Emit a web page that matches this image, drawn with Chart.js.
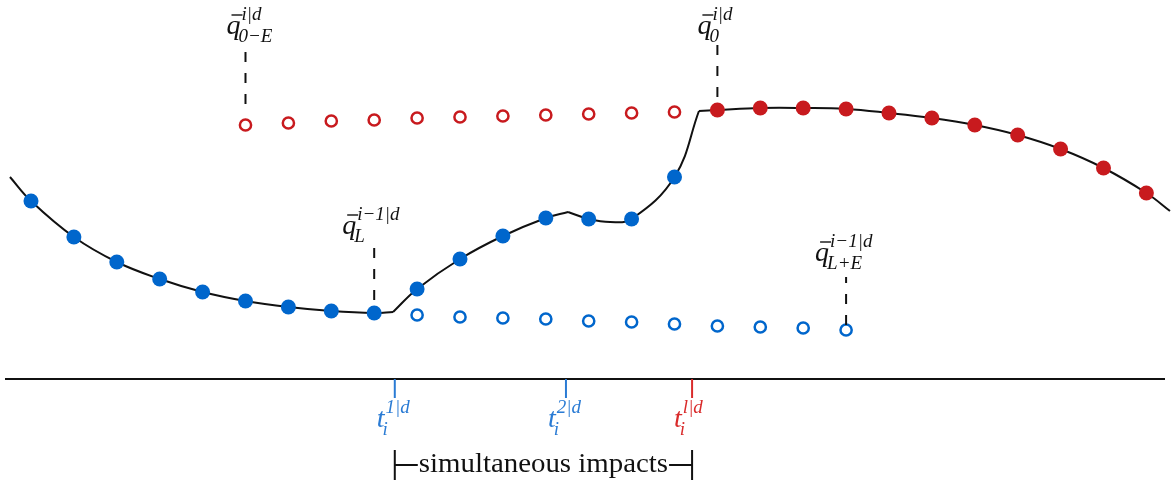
<!DOCTYPE html>
<html>
<head>
<meta charset="utf-8">
<script src="https://cdn.jsdelivr.net/npm/chart.js@4.4.1/dist/chart.umd.min.js"></script>
<style>
  html, body { margin: 0; padding: 0; background: #fff; }
  #wrap { width: 1172px; height: 483px; }
</style>
</head>
<body>
<div id="wrap"><canvas id="c"></canvas></div>
<script>
// sample index k on the time axis, q = height above the time axis

// pre-impact samples (blue, filled)
const blueK = [0, 1, 2, 3, 4, 5, 6, 7, 8, 9, 10, 11, 12, 13, 14, 15];
const blueQ = [179, 143, 118, 101, 88, 79, 73, 69, 67, 91, 121, 144, 162, 161, 161, 203];
// extended pre-impact reference (blue, open)
const blueOpenK = [9, 10, 11, 12, 13, 14, 15, 16, 17, 18, 19];
const blueOpenQ = [65, 63, 62, 61, 59, 58, 56, 54, 53, 52, 50];
// extended post-impact reference (red, open)
const redOpenK = [5, 6, 7, 8, 9, 10, 11, 12, 13, 14, 15];
const redOpenQ = [255, 257, 259, 260, 262, 263, 264, 265, 266, 267, 268];
// post-impact samples (red, filled)
const redK = [16, 17, 18, 19, 20, 21, 22, 23, 24, 25, 26];
const redQ = [270, 272, 272, 271, 267, 262, 255, 245, 231, 212, 187];

// continuous trajectory, split at the impacts
const segAK = [-0.49, 0, 1, 2, 3, 4, 5, 6, 7, 8, 8.44];
const segAQ = [203, 179, 143, 118, 101, 88, 79, 73, 69, 67, 68];
const segBK = [8.44, 9, 10, 11, 12, 12.52];
const segBQ = [68, 91, 121, 144, 162, 168];
const segCK = [12.52, 13, 13.5, 14, 15, 15.57];
const segCQ = [168, 161, 158, 161, 203, 269];
const segDK = [15.57, 16, 17, 18, 19, 20, 21, 22, 23, 24, 25, 26, 26.55];
const segDQ = [269, 270, 272, 272, 271, 267, 262, 255, 245, 231, 212, 187, 169];

// impact times
const impactT = [8.48, 12.47, 15.41];
const impactSup = ['1|d', '2|d', 'l|d'];

const BLUE = '#0066cc';
const RED = '#c81a1e';
const TBLUE = '#2a7bd4';
const TRED = '#d92b2b';
const SERIF = '"Liberation Serif", "DejaVu Serif", serif';

const pts = (ks, qs) => ks.map((k, i) => ({ x: k, y: qs[i] }));

function sym(ctx, x, base, main, sup, sub, color, bar) {
  ctx.fillStyle = color;
  ctx.strokeStyle = color;
  ctx.textAlign = 'left';
  ctx.textBaseline = 'alphabetic';
  ctx.font = 'italic 28px ' + SERIF;
  ctx.fillText(main, x, base);
  const w = ctx.measureText(main).width;
  if (bar) {
    ctx.lineWidth = 1.4;
    ctx.beginPath();
    ctx.moveTo(x + 5, base - 19);
    ctx.lineTo(x + w + 2, base - 19);
    ctx.stroke();
  }
  ctx.font = 'italic 19px ' + SERIF;
  ctx.fillText(sup, x + w + 1, base - 14);
  ctx.fillText(sub, x + w - 2, base + 8);
}

function leader(ctx, px, top, bottom) {
  ctx.save();
  ctx.setLineDash([10, 11]);
  ctx.lineWidth = 2;
  ctx.strokeStyle = '#111';
  ctx.beginPath();
  ctx.moveTo(px, bottom);
  ctx.lineTo(px, top);
  ctx.stroke();
  ctx.restore();
}

const annot = {
  id: 'annot',
  afterDatasetsDraw(chart) {
    const { ctx, scales: { x, y }, chartArea } = chart;
    ctx.save();

    // time axis
    const ay = Math.round(y.getPixelForValue(1));
    ctx.strokeStyle = '#111';
    ctx.lineWidth = 2;
    ctx.beginPath();
    ctx.moveTo(chartArea.left + 5, ay);
    ctx.lineTo(chartArea.right - 7, ay);
    ctx.stroke();

    // impact ticks and labels
    impactT.forEach((t, i) => {
      const px = x.getPixelForValue(t);
      const col = i === impactT.length - 1 ? TRED : TBLUE;
      ctx.strokeStyle = col;
      ctx.lineWidth = 2;
      ctx.beginPath();
      ctx.moveTo(px, ay);
      ctx.lineTo(px, ay + 19);
      ctx.stroke();
      sym(ctx, px - 18, ay + 48, 't', impactSup[i], 'i', col, false);
    });

    // bracket for simultaneous impacts
    const b0 = x.getPixelForValue(impactT[0]);
    const b1 = x.getPixelForValue(impactT[2]);
    const by = ay + 86;
    ctx.strokeStyle = '#111';
    ctx.fillStyle = '#111';
    ctx.lineWidth = 2;
    ctx.beginPath();
    ctx.moveTo(b0, by - 15); ctx.lineTo(b0, by + 15);
    ctx.moveTo(b1, by - 15); ctx.lineTo(b1, by + 15);
    ctx.moveTo(b0, by); ctx.lineTo(b0 + 23, by);
    ctx.moveTo(b1 - 23, by); ctx.lineTo(b1, by);
    ctx.stroke();
    ctx.font = '27px ' + SERIF;
    ctx.textBaseline = 'alphabetic';
    ctx.textAlign = 'left';
    const label = 'simultaneous impacts';
    const avail = (b1 - 24) - (b0 + 24);
    const tw = ctx.measureText(label).width;
    ctx.save();
    ctx.translate(b0 + 24, by + 7);
    ctx.scale(avail / tw, 1);
    ctx.fillText(label, 0, 0);
    ctx.restore();

    // dashed leaders with labels
    const pRO = { x: x.getPixelForValue(redOpenK[0]), y: y.getPixelForValue(redOpenQ[0]) };
    leader(ctx, pRO.x, pRO.y - 73, pRO.y - 21);
    sym(ctx, pRO.x - 19, pRO.y - 91, 'q', 'i|d', '0\u2212E', '#111', true);

    const pR = { x: x.getPixelForValue(redK[0]), y: y.getPixelForValue(redQ[0]) };
    leader(ctx, pR.x, pR.y - 67, pR.y - 13);
    sym(ctx, pR.x - 20, pR.y - 76, 'q', 'i|d', '0', '#111', true);

    const li = blueK.indexOf(8);
    const pB = { x: x.getPixelForValue(blueK[li]), y: y.getPixelForValue(blueQ[li]) };
    leader(ctx, pB.x, pB.y - 68, pB.y - 13);
    sym(ctx, pB.x - 32, pB.y - 79, 'q', 'i\u22121|d', 'L', '#111', true);

    const n = blueOpenK.length - 1;
    const pBO = { x: x.getPixelForValue(blueOpenK[n]), y: y.getPixelForValue(blueOpenQ[n]) };
    leader(ctx, pBO.x, pBO.y - 53, pBO.y - 5);
    sym(ctx, pBO.x - 31, pBO.y - 69, 'q', 'i\u22121|d', 'L+E', '#111', true);

    ctx.restore();
  }
};

const curve = (data) => ({
  data, showLine: true, borderColor: '#111', borderWidth: 2,
  pointRadius: 0, tension: 0.4, order: 10
});

new Chart(document.getElementById('c'), {
  type: 'scatter',
  data: {
    datasets: [
      { data: pts(blueK, blueQ), backgroundColor: BLUE, borderWidth: 0, pointRadius: 7.5, order: 1 },
      { data: pts(redK, redQ), backgroundColor: RED, borderWidth: 0, pointRadius: 7.5, order: 1 },
      { data: pts(blueOpenK, blueOpenQ), backgroundColor: '#fff', borderColor: BLUE, borderWidth: 2.5, pointRadius: 5.6, order: 1 },
      { data: pts(redOpenK, redOpenQ), backgroundColor: '#fff', borderColor: RED, borderWidth: 2.5, pointRadius: 5.6, order: 1 },
      curve(pts(segAK, segAQ)),
      curve(pts(segBK, segBQ)),
      curve(pts(segCK, segCQ)),
      curve(pts(segDK, segDQ))
    ]
  },
  options: {
    responsive: true,
    maintainAspectRatio: false,
    animation: false,
    events: [],
    layout: { padding: 0, autoPadding: false },
    plugins: { legend: { display: false }, tooltip: { enabled: false } },
    scales: {
      x: { type: 'linear', min: -0.7226, max: 26.597, display: false },
      y: { type: 'linear', min: -103, max: 380, display: false }
    }
  },
  plugins: [annot]
});
</script>
</body>
</html>
